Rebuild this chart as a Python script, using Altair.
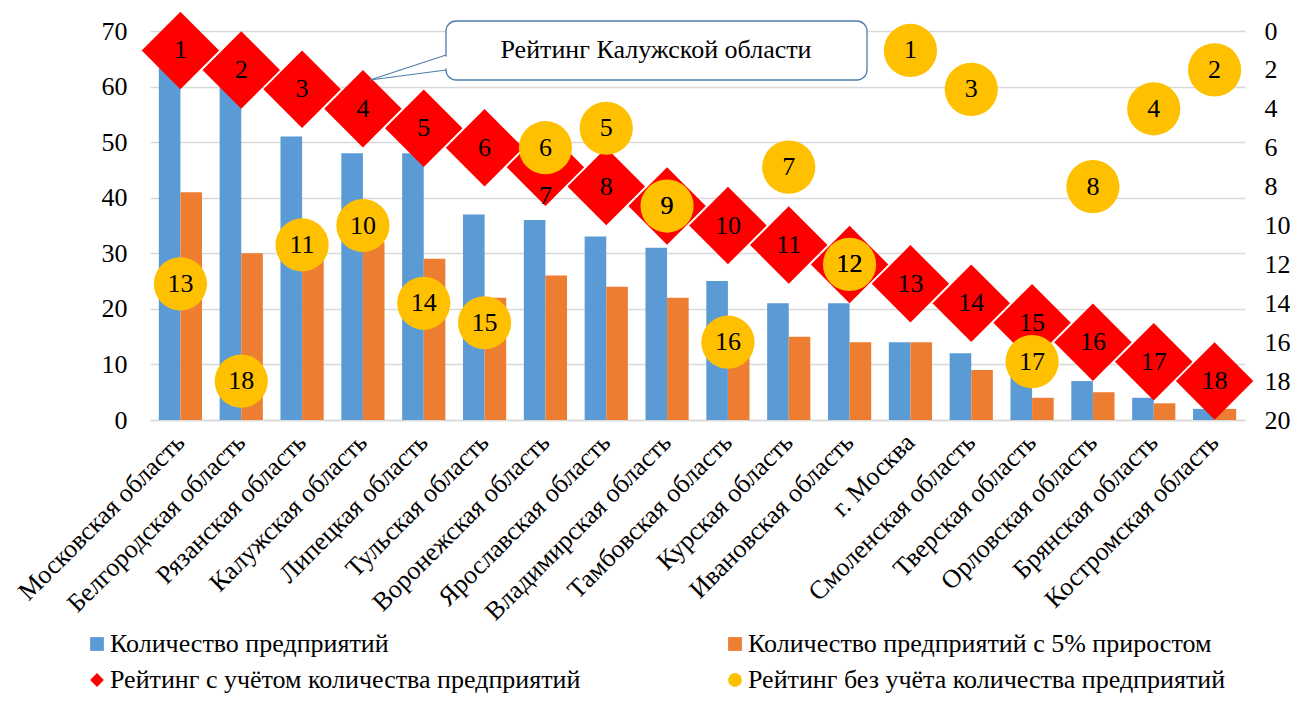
import altair as alt
import pandas as pd

FONT = "Liberation Serif"

regions = [
    "Московская область", "Белгородская область", "Рязанская область",
    "Калужская область", "Липецкая область", "Тульская область",
    "Воронежская область", "Ярославская область", "Владимирская область",
    "Тамбовская область", "Курская область", "Ивановская область",
    "г. Москва", "Смоленская область", "Тверская область",
    "Орловская область", "Брянская область", "Костромская область",
]
enterprises = [65, 60, 51, 48, 48, 37, 36, 33, 31, 25, 21, 21, 14, 12, 8, 7, 4, 2]
enterprises_growth = [41, 30, 29, 32, 29, 22, 26, 24, 22, 15, 15, 14, 14, 9, 4, 5, 3, 2]
rank_with_count = [1, 2, 3, 4, 5, 6, 7, 8, 9, 10, 11, 12, 13, 14, 15, 16, 17, 18]
rank_without_count = [13, 18, 11, 10, 14, 15, 6, 5, 9, 16, 7, 12, 1, 3, 17, 8, 4, 2]

S1 = "Количество предприятий"
S2 = "Количество предприятий с 5% приростом"
S3 = "Рейтинг с учётом количества предприятий"
S4 = "Рейтинг без учёта количества предприятий"
series_names = [S1, S2, S3, S4]
series_colors = ["#5B9BD5", "#ED7D31", "#FF0000", "#FFC000"]
series_shapes = ["square", "square", "diamond", "circle"]
callout_text = "Рейтинг Калужской области"

bars_df = pd.DataFrame(
    [{"region": r, "series": S1, "value": v} for r, v in zip(regions, enterprises)]
    + [{"region": r, "series": S2, "value": v} for r, v in zip(regions, enterprises_growth)]
)
points_df = pd.DataFrame(
    [{"region": r, "series": S3, "rank": v} for r, v in zip(regions, rank_with_count)]
    + [{"region": r, "series": S4, "rank": v} for r, v in zip(regions, rank_without_count)]
)

legend = alt.Legend(
    title=None, orient="none", legendX=-66, legendY=600, columns=2, direction="horizontal",
    columnPadding=141, rowPadding=10, symbolSize=190, symbolStrokeWidth=0,
    symbolOpacity=1, labelFont=FONT, labelFontSize=26, labelColor="black",
    labelLimit=700, labelOffset=0, padding=0,
)
color = alt.Color("series:N", scale=alt.Scale(domain=series_names, range=series_colors), legend=legend)
shape = alt.Shape("series:N", scale=alt.Scale(domain=series_names, range=series_shapes), legend=legend)

x_axis = alt.Axis(
    title=None, labelAngle=-45, labelAlign="right", labelBaseline="middle",
    labelFont=FONT, labelFontSize=26, labelColor="black", labelLimit=600,
    ticks=False, domainColor="#D9D9D9", domainWidth=1.3, labelPadding=18,
)
x_enc = alt.X("region:N", sort=regions,
              scale=alt.Scale(paddingInner=0.29, paddingOuter=0.145), axis=x_axis)

bars = alt.Chart(bars_df).mark_bar().encode(
    x=x_enc,
    xOffset=alt.XOffset("series:N", sort=[S1, S2], scale=alt.Scale(paddingInner=0, paddingOuter=0)),
    y=alt.Y("value:Q", scale=alt.Scale(domain=[0, 70]),
            axis=alt.Axis(title=None, values=[0, 10, 20, 30, 40, 50, 60, 70], grid=True,
                          gridColor="#D9D9D9", gridWidth=1.3, domain=False, ticks=False,
                          labelFont=FONT, labelFontSize=26, labelColor="black",
                          labelPadding=23, orient="left")),
    color=color,
)

right_axis = alt.Axis(title=None, values=[0, 2, 4, 6, 8, 10, 12, 14, 16, 18, 20], grid=False,
                      domain=False, ticks=False, labelFont=FONT, labelFontSize=26,
                      labelColor="black", labelPadding=19, orient="right")
base = alt.Chart(points_df).encode(
    x=alt.X("region:N", sort=regions),
    y=alt.Y("rank:Q", scale=alt.Scale(domain=[0, 20], reverse=True), axis=right_axis),
)

diamonds = base.transform_filter(alt.datum.series == S3).mark_point(
    filled=True, opacity=1, size=6000, strokeWidth=0
).encode(color=color, shape=shape)
circles = base.transform_filter(alt.datum.series == S4).mark_point(
    filled=True, opacity=1, size=2830, strokeWidth=0
).encode(color=color, shape=shape)

txt = dict(font=FONT, fontSize=26, color="black")
d_text = base.transform_filter((alt.datum.series == S3) & (alt.datum.rank != 7)).mark_text(**txt).encode(text="rank:Q")
d_text7 = base.transform_filter((alt.datum.series == S3) & (alt.datum.rank == 7)).mark_text(dy=29, **txt).encode(text="rank:Q")
c_text = base.transform_filter(alt.datum.series == S4).mark_text(**txt).encode(text="rank:Q")

ratings = alt.layer(diamonds, circles, d_text, d_text7, c_text)

note_df = pd.DataFrame({"t": [callout_text]})
CALLOUT = "#4F7CAC"
box = alt.Chart(note_df).mark_rect(fill="white", stroke=CALLOUT, strokeWidth=1.3, cornerRadius=10).encode(
    x=alt.value(296), x2=alt.value(717), y=alt.value(-10), y2=alt.value(49))
gap = alt.Chart(note_df).mark_rule(color="white", strokeWidth=2.5).encode(
    x=alt.value(296), y=alt.value(25.5), y2=alt.value(37.5))
ptr1 = alt.Chart(note_df).mark_rule(color=CALLOUT, strokeWidth=1.2).encode(
    x=alt.value(220), y=alt.value(49), x2=alt.value(296), y2=alt.value(24))
ptr2 = alt.Chart(note_df).mark_rule(color=CALLOUT, strokeWidth=1.2).encode(
    x=alt.value(220), y=alt.value(49), x2=alt.value(296), y2=alt.value(39))
label = alt.Chart(note_df).mark_text(font=FONT, fontSize=26, color="black").encode(
    x=alt.value(506), y=alt.value(19), text="t:N")

chart = alt.layer(bars, ratings, box, gap, ptr1, ptr2, label).resolve_scale(
    y="independent"
).properties(
    width=1095, height=389,
    autosize=alt.AutoSizeParams(type="none"),
    padding={"left": 142, "top": 23, "right": 45, "bottom": 277},
    background="white",
).configure_view(stroke=None)

chart.save("out.html", embed_options={"renderer": "svg", "actions": False})
